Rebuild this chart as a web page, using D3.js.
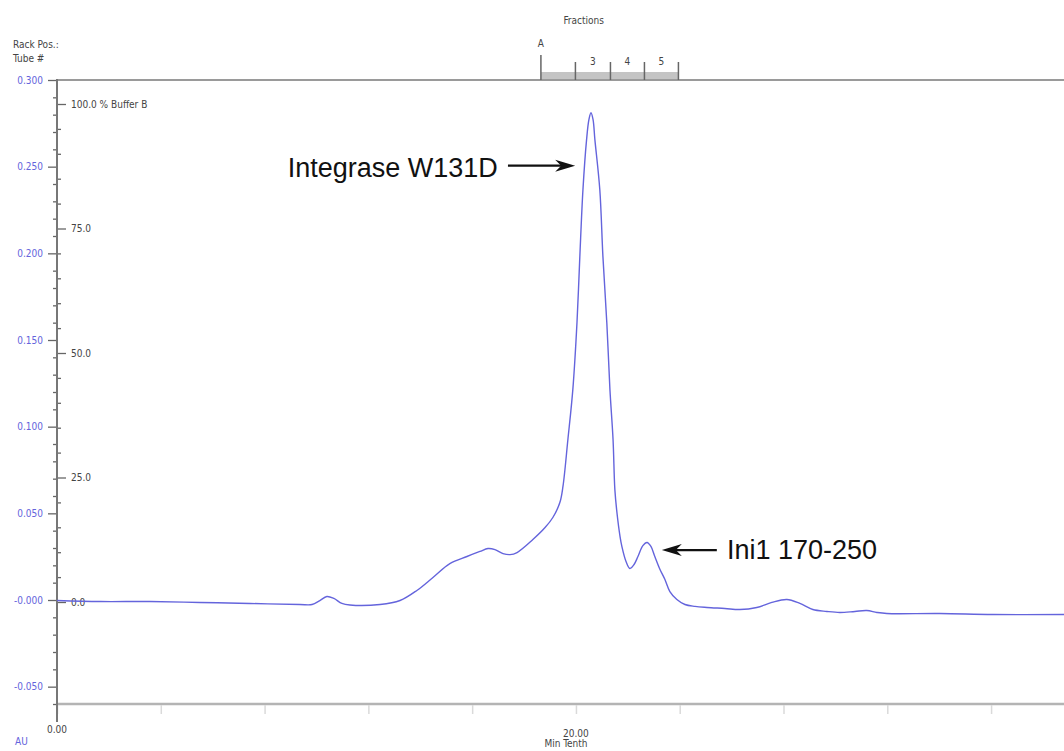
<!DOCTYPE html>
<html><head><meta charset="utf-8">
<script src="https://cdn.jsdelivr.net/npm/d3@7"></script>
<style>
html,body{margin:0;padding:0;background:#fff;}
svg{display:block;}
.sm{font-family:"Liberation Sans Narrow","DejaVu Sans Condensed","Liberation Sans",sans-serif;font-stretch:condensed;font-size:10px;}
.ann{font-family:"Liberation Sans",Arial,sans-serif;font-size:27px;fill:#111;}
</style></head>
<body>
<svg id="c" width="1064" height="751"></svg>
<script>
// ---- data ----
const timeMin = [0,1.66,3.58,5.51,7.44,9.36,9.83,10.13,10.40,10.67,10.98,11.29,12.45,13.22,13.87,14.49,15.14,15.80,16.30,16.61,16.88,17.19,17.46,17.73,18.34,18.81,19.11,19.38,19.50,19.69,19.88,20.04,20.15,20.27,20.41,20.50,20.58,20.66,20.73,20.92,21.04,21.19,21.31,21.43,21.50,21.58,21.70,21.77,21.93,22.08,22.24,22.39,22.58,22.74,22.89,23.04,23.24,23.43,23.62,23.89,24.20,24.59,25.05,25.74,26.32,26.97,27.55,28.13,28.63,29.13,29.67,30.17,30.75,31.21,31.60,31.98,34.03,36.07,38.81];
const absorbanceAU = [-0.0003,-0.0009,-0.0009,-0.0014,-0.0020,-0.0026,-0.0026,-0.0003,0.0020,0.0009,-0.0020,-0.0029,-0.0026,-0.0003,0.0055,0.0130,0.0210,0.0251,0.0280,0.0297,0.0291,0.0268,0.0262,0.0274,0.0349,0.0418,0.0476,0.0562,0.0655,0.0926,0.1214,0.1600,0.1981,0.2367,0.2656,0.2771,0.2811,0.2771,0.2656,0.2367,0.1981,0.1600,0.1214,0.0926,0.0637,0.0505,0.0366,0.0309,0.0222,0.0182,0.0205,0.0251,0.0314,0.0332,0.0309,0.0251,0.0176,0.0118,0.0049,0.0003,-0.0026,-0.0037,-0.0043,-0.0049,-0.0055,-0.0043,-0.0014,0.0003,-0.0020,-0.0055,-0.0066,-0.0072,-0.0066,-0.0061,-0.0072,-0.0078,-0.0078,-0.0084,-0.0084];
const auTicks = [-0.05,0,0.05,0.10,0.15,0.20,0.25,0.30];
const bufferTicks = [0,25,50,75,100];
const timeTicks = [0,4,8,12,16,20,24,28,32,36];
const timeLabels = [{t:0,label:"0.00"},{t:20,label:"20.00"}];
const fractionBounds = [18.65,19.98,21.33,22.64,23.95];
const fractionLabels = ["","3","4","5"];
const rackLabel = "A";
const annotations = [
  {text:"Integrase W131D", tx:16.99, ty:0.2442, anchor:"end", a0:17.38, a1:19.97, ay:0.2506},
  {text:"Ini1 170-250", tx:25.82, ty:0.0234, anchor:"start", a0:25.43, a1:23.31, ay:0.0288}
];

// ---- scales ----
const W=1064,H=751;
const x = d3.scaleLinear().domain([0,38.81]).range([57,1064]);
const y = d3.scaleLinear().domain([-0.06,0.30]).range([704,80]);
const yB = d3.scaleLinear().domain([0,100]).range([602,104]);
const svg = d3.select("#c");
const blue="#6464dc", gray="#444";

// frame lines
svg.append("line").attr("x1",x(0)).attr("x2",W).attr("y1",y(0.30)).attr("y2",y(0.30)).attr("stroke","#9a9a9a").attr("stroke-width",2);
svg.append("line").attr("x1",x(0)).attr("x2",W).attr("y1",y(-0.06)).attr("y2",y(-0.06)).attr("stroke","#b4b4b4").attr("stroke-width",2.5);

// bottom axis ticks
const xa = svg.append("g").attr("transform",`translate(0,${y(-0.06)+1})`)
  .call(d3.axisBottom(x).tickValues(timeTicks).tickSize(9).tickFormat(""));
xa.select(".domain").remove();
xa.selectAll(".tick line").attr("stroke","#dadada").attr("stroke-width",1.5);
svg.selectAll(".tl").data(timeLabels).join("text").attr("class","sm")
  .attr("x",d=>x(d.t)).attr("y",(d,i)=>i===0?733:737).attr("text-anchor","middle").attr("fill",gray).text(d=>d.label);
svg.append("text").attr("class","sm").attr("x",x(20)-10).attr("y",747).attr("text-anchor","middle").attr("fill",gray).text("Min Tenth");

// left AU axis
const ya = svg.append("g").attr("transform",`translate(${x(0)},0)`)
  .call(d3.axisLeft(y).tickValues(auTicks).tickSize(9).tickPadding(5)
    .tickFormat(d=> (d===0?"-0.000":(d<0?"-":"")+d3.format(".3f")(Math.abs(d)))));
ya.select(".domain").remove();
ya.selectAll(".tick line").attr("stroke","#666").attr("stroke-width",1.3);
ya.selectAll(".tick text").attr("class","sm").attr("fill",blue);
const minorAU = d3.range(-0.06,0.301,0.01).filter(v=>Math.abs(Math.round(v*100)%5)!==0);
const ym = svg.append("g").attr("transform",`translate(${x(0)},0)`)
  .call(d3.axisLeft(y).tickValues(minorAU).tickSize(4).tickFormat(""));
ym.select(".domain").remove();
ym.selectAll(".tick line").attr("stroke","#666").attr("stroke-width",1.3);

// right-side % Buffer B axis
const yb = svg.append("g").attr("transform",`translate(${x(0)},0)`)
  .call(d3.axisRight(yB).tickValues(bufferTicks).tickSize(9).tickPadding(5)
    .tickFormat(d=> d===100 ? "100.0 % Buffer B" : d3.format(".1f")(d)));
yb.select(".domain").remove();
yb.selectAll(".tick line").attr("stroke","#666").attr("stroke-width",1.3);
yb.selectAll(".tick text").attr("class","sm").attr("fill",gray);
const minorB = d3.range(5,100,5).filter(v=>v%25!==0);
const ybm = svg.append("g").attr("transform",`translate(${x(0)},0)`)
  .call(d3.axisRight(yB).tickValues(minorB).tickSize(4).tickFormat(""));
ybm.select(".domain").remove();
ybm.selectAll(".tick line").attr("stroke","#666").attr("stroke-width",1.3);

// vertical axis line
svg.append("line").attr("x1",x(0)).attr("x2",x(0)).attr("y1",y(0.30)-1).attr("y2",722).attr("stroke","#777").attr("stroke-width",2);

// top-left labels
svg.append("text").attr("class","sm").attr("x",13).attr("y",48).attr("fill",gray).text("Rack Pos.:");
svg.append("text").attr("class","sm").attr("x",13).attr("y",62).attr("fill",gray).text("Tube #");
svg.append("text").attr("class","sm").attr("x",15).attr("y",745).attr("fill",blue).text("AU");

// fractions
const fy = y(0.30);
svg.append("rect").attr("x",x(fractionBounds[0])).attr("width",x(fractionBounds[fractionBounds.length-1])-x(fractionBounds[0]))
  .attr("y",fy-8).attr("height",7).attr("fill","#c4c4c4");
svg.selectAll(".ft").data(fractionBounds).join("line")
  .attr("x1",d=>x(d)).attr("x2",d=>x(d)).attr("y1",(d,i)=>i===0?fy-25:fy-18).attr("y2",fy)
  .attr("stroke","#666").attr("stroke-width",1.5);
svg.selectAll(".fl").data(fractionLabels).join("text").attr("class","sm")
  .attr("x",(d,i)=>(x(fractionBounds[i])+x(fractionBounds[i+1]))/2).attr("y",fy-15)
  .attr("text-anchor","middle").attr("fill",gray).text(d=>d);
svg.append("text").attr("class","sm").attr("x",x(fractionBounds[0])).attr("y",fy-33).attr("text-anchor","middle").attr("fill",gray).text(rackLabel);
svg.append("text").attr("class","sm").attr("x",(x(fractionBounds[0])+x(fractionBounds[2]))/2+8).attr("y",24).attr("text-anchor","middle").attr("fill",gray).text("Fractions");

// trace
const pts = timeMin.map((t,i)=>[t,absorbanceAU[i]]);
svg.append("path").datum(pts)
  .attr("d",d3.line().x(d=>x(d[0])).y(d=>y(d[1])).curve(d3.curveCatmullRom.alpha(0.5)))
  .attr("fill","none").attr("stroke",blue).attr("stroke-width",1.4);

// annotations
annotations.forEach(a=>{
  svg.append("text").attr("class","ann").attr("x",x(a.tx)).attr("y",y(a.ty)).attr("text-anchor",a.anchor).text(a.text);
  const x0=x(a.a0), x1=x(a.a1), yy=y(a.ay), dir = x1>x0?1:-1;
  const hl=20, hw=6;
  svg.append("line").attr("x1",x0).attr("x2",x1-dir*12).attr("y1",yy).attr("y2",yy).attr("stroke","#111").attr("stroke-width",2.2);
  svg.append("path").attr("d",`M${x1},${yy} L${x1-dir*hl},${yy-hw} L${x1-dir*(hl-6)},${yy} L${x1-dir*hl},${yy+hw} Z`).attr("fill","#111");
});
</script>
</body></html>
